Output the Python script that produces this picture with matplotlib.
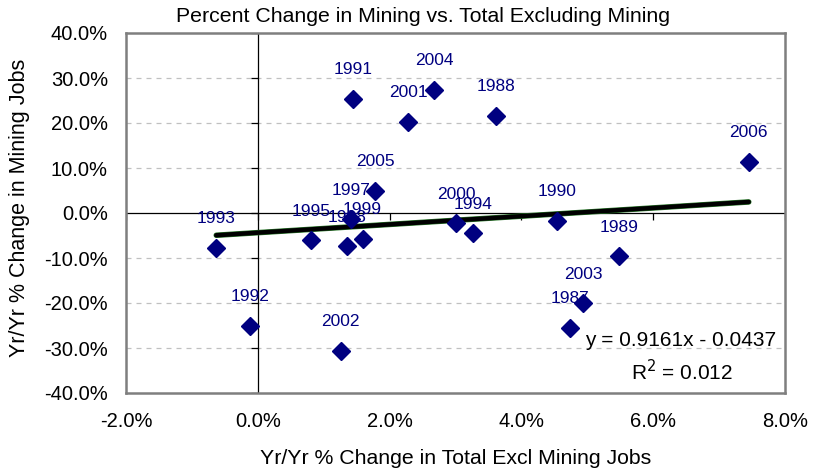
import matplotlib
matplotlib.use("Agg")
import matplotlib.pyplot as plt
import numpy as np

plt.rcParams['font.family'] = ['Liberation Sans', 'DejaVu Sans']

years = ["1991", "2004", "2001", "1988", "2006", "2005", "1997", "1993", "1995",
         "1998", "1999", "2000", "1994", "1990", "1989", "1992", "2002", "2003", "1987"]
x_total = [1.44, 2.68, 2.28, 3.62, 7.45, 1.78, 1.42, -0.63, 0.81,
           1.35, 1.59, 3.01, 3.26, 4.54, 5.48, -0.12, 1.26, 4.94, 4.74]
y_mining = [25.3, 27.3, 20.2, 21.6, 11.3, 5.0, -1.4, -7.7, -6.1,
            -7.4, -5.8, -2.3, -4.5, -1.7, -9.6, -25.0, -30.6, -20.1, -25.5]

slope = 0.9161
intercept = -0.0437
r2 = 0.012

xticks = [-2, 0, 2, 4, 6, 8]
yticks = [-40, -30, -20, -10, 0, 10, 20, 30, 40]
grid_y = [-30, -20, -10, 10, 20, 30]

fig = plt.figure(figsize=(8.18, 4.72), dpi=100)
ax = fig.add_axes([126/818, 1-393/472, (785-126)/818, (393-33)/472])

ax.set_xlim(-2, 8)
ax.set_ylim(-40, 40)

for g in grid_y:
    ax.axhline(g, color='#c0c0c0', lw=0.9, ls=(0, (4, 4)), zorder=1)

ax.axhline(0, color='black', lw=0.9, zorder=2)
ax.axvline(0, color='black', lw=0.9, zorder=2)
# tick marks along the zero lines
ax.plot(np.zeros(len(yticks)), yticks, ls='none', marker=0, ms=5, mew=0.9, color='black', zorder=2)
ax.plot(xticks, np.zeros(len(xticks)), ls='none', marker=3, ms=5, mew=0.9, color='black', zorder=2)

ax.set_xticks(xticks)
ax.set_yticks(yticks)
ax.set_xticklabels([f"{v:.1f}%" for v in xticks], fontsize=14.5)
ax.set_yticklabels([f"{v:.1f}%" for v in yticks], fontsize=14.5)
ax.tick_params(axis='both', length=0)
ax.tick_params(axis='y', pad=13)
ax.tick_params(axis='x', pad=14)

for s in ax.spines.values():
    s.set_color('#7f7f7f')
    s.set_linewidth(1.8)

# trend line
xs = np.array([min(x_total), max(x_total)])
ys = (slope * xs / 100 + intercept) * 100
ax.plot(xs, ys, color='#2a7a2a', lw=4.0, solid_capstyle='round', zorder=3)
ax.plot(xs, ys, color='black', lw=3.2, solid_capstyle='round', zorder=3)

ax.plot(x_total, y_mining, ls='none', marker='D', ms=9, color='#000080', zorder=4)

for yr, xv, yv in zip(years, x_total, y_mining):
    ax.annotate(yr, (xv, yv), xytext=(0, 21), textcoords='offset points',
                ha='center', va='center', fontsize=12.5, color='#000080', zorder=5)

fig.text(681/818, 1-340/472, f"y = {slope:.4f}x - {abs(intercept):.4f}", ha='center', va='center', fontsize=15)
fig.text(682/818, 1-372/472, f"R$^2$ = {r2:.3f}", ha='center', va='center', fontsize=15)

fig.text(423/818, 1-16/472, "Percent Change in Mining vs. Total Excluding Mining", ha='center', va='center', fontsize=15.3)
fig.text(456/818, 1-458/472, "Yr/Yr % Change in Total Excl Mining Jobs", ha='center', va='center', fontsize=15.3)
fig.text(20/818, 1-208/472, "Yr/Yr % Change in Mining Jobs", ha='center', va='center', rotation=90, fontsize=15.5)

fig.savefig("out.png", dpi=100)
